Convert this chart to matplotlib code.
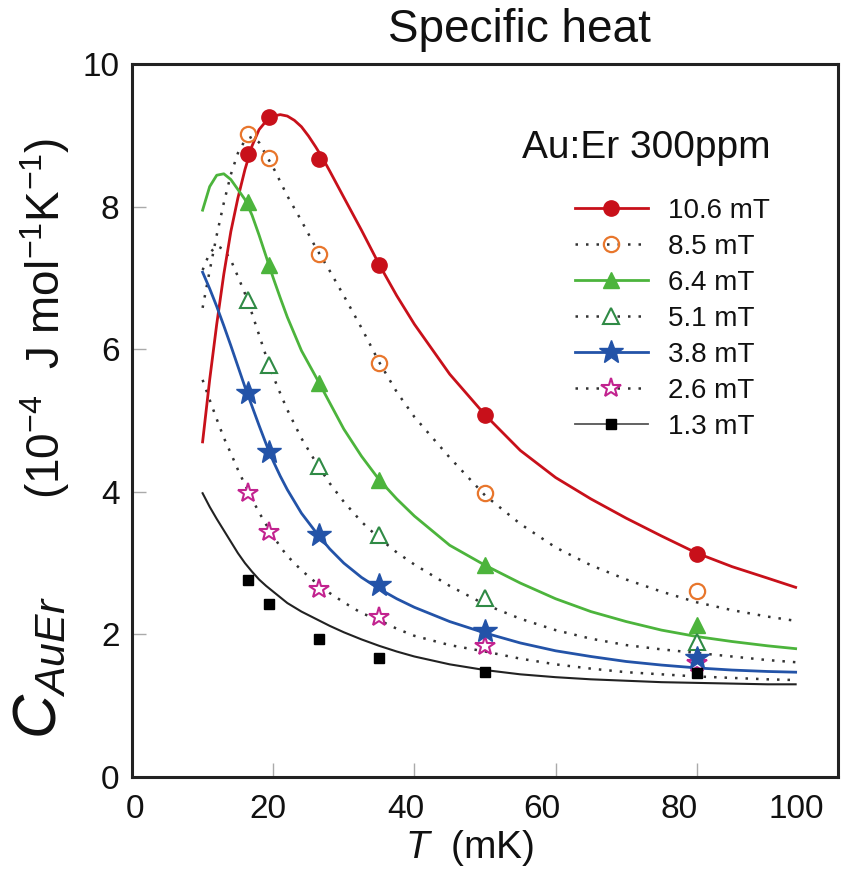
import matplotlib
matplotlib.use("Agg")
import matplotlib.pyplot as plt
from matplotlib.lines import Line2D
from matplotlib.transforms import ScaledTranslation

plt.rcParams['font.family'] = ['Liberation Sans', 'DejaVu Sans']
plt.rcParams['mathtext.fontset'] = 'custom'
plt.rcParams['mathtext.rm'] = 'Liberation Sans'
plt.rcParams['mathtext.it'] = 'Liberation Sans:italic'

# ---- data points ----
T_pts = [16.4, 19.4, 26.5, 35, 50, 80]
c_106 = [8.74, 9.26, 8.67, 7.18, 5.08, 3.13]
c_85 = [9.02, 8.68, 7.34, 5.80, 3.98, 2.61]
c_64 = [8.06, 7.18, 5.53, 4.17, 2.97, 2.13]
c_51 = [6.69, 5.78, 4.36, 3.39, 2.51, 1.89]
c_38 = [5.38, 4.56, 3.39, 2.69, 2.05, 1.67]
c_26 = [3.98, 3.44, 2.64, 2.24, 1.84, 1.60]
c_13 = [2.76, 2.43, 1.94, 1.67, 1.47, 1.46]

# ---- fitted curves ----
T_red = [10, 11, 12, 13, 14, 15, 16, 17, 18, 19, 20, 21, 22, 23, 24, 25, 26, 27,
         28, 30, 32.5, 35, 37.5, 40, 45, 50, 55, 60, 65, 70, 75, 80, 85, 90, 94]
f_106 = [4.70, 5.57, 6.35, 7.05, 7.65, 8.12, 8.52, 8.85, 9.08, 9.20, 9.27, 9.29,
         9.27, 9.21, 9.12, 8.99, 8.84, 8.68, 8.50, 8.13, 7.67, 7.19, 6.75, 6.35,
         5.65, 5.08, 4.58, 4.20, 3.90, 3.63, 3.38, 3.14, 2.95, 2.79, 2.66]

T_fit = [10, 11, 12, 13, 14, 15, 16, 17, 18, 19, 20, 21, 22, 24, 26, 28, 30,
         32.5, 35, 37.5, 40, 45, 50, 55, 60, 65, 70, 75, 80, 85, 90, 94]
f_85 = [6.58, 7.10, 7.60, 8.05, 8.45, 8.75, 8.93, 8.98, 8.90, 8.72, 8.55, 8.35,
        8.15, 7.80, 7.43, 7.10, 6.75, 6.30, 5.82, 5.40, 5.05, 4.48, 3.95, 3.55,
        3.22, 2.97, 2.77, 2.60, 2.45, 2.34, 2.25, 2.19]
f_64 = [7.95, 8.28, 8.44, 8.46, 8.38, 8.24, 8.10, 7.88, 7.60, 7.30, 7.00, 6.72,
        6.45, 5.98, 5.62, 5.25, 4.88, 4.50, 4.17, 3.90, 3.66, 3.25, 2.97, 2.72,
        2.50, 2.32, 2.18, 2.06, 1.97, 1.90, 1.84, 1.80]
f_51 = [7.11, 7.35, 7.45, 7.40, 7.25, 7.02, 6.78, 6.50, 6.20, 5.90, 5.62, 5.38,
        5.15, 4.75, 4.42, 4.12, 3.86, 3.58, 3.35, 3.15, 2.98, 2.68, 2.42, 2.22,
        2.06, 1.94, 1.85, 1.79, 1.74, 1.69, 1.64, 1.61]
f_38 = [7.08, 6.85, 6.60, 6.33, 6.05, 5.76, 5.47, 5.20, 4.93, 4.67, 4.43, 4.22,
        4.03, 3.70, 3.44, 3.20, 3.00, 2.80, 2.64, 2.50, 2.38, 2.18, 2.02, 1.88,
        1.77, 1.69, 1.62, 1.57, 1.53, 1.50, 1.48, 1.47]
f_26 = [5.57, 5.29, 5.02, 4.76, 4.54, 4.31, 4.10, 3.90, 3.71, 3.54, 3.38, 3.23,
        3.10, 2.90, 2.73, 2.58, 2.45, 2.30, 2.20, 2.08, 1.98, 1.85, 1.76, 1.66,
        1.58, 1.52, 1.47, 1.44, 1.41, 1.39, 1.37, 1.36]
f_13 = [3.98, 3.79, 3.62, 3.46, 3.30, 3.14, 3.00, 2.88, 2.77, 2.68, 2.60, 2.52,
        2.44, 2.32, 2.22, 2.12, 2.03, 1.93, 1.84, 1.76, 1.69, 1.58, 1.50, 1.44,
        1.40, 1.37, 1.35, 1.33, 1.32, 1.31, 1.30, 1.30]

labels = ['10.6 mT', '8.5 mT', '6.4 mT', '5.1 mT', '3.8 mT', '2.6 mT', '1.3 mT']
x_ticks = [0, 20, 40, 60, 80, 100]
y_ticks = [0, 2, 4, 6, 8, 10]

RED = '#c8101a'
ORANGE = '#e8762c'
GREEN = '#4cb43c'
DGREEN = '#2f8a45'
BLUE = '#2353a8'
MAGENTA = '#c2238f'
DOT = '#333333'
dotted = (0, (1.0, 3.2))

fig = plt.figure(figsize=(8.64, 8.82), dpi=100)
ax = fig.add_axes([132/864, 1-777/882, (838-132)/864, (777-64)/882])

# curves
ax.plot(T_red, f_106, color=RED, lw=2.0, zorder=3)
ax.plot(T_fit, f_85, color=DOT, lw=1.8, ls=dotted, zorder=2)
ax.plot(T_fit, f_64, color=GREEN, lw=2.0, zorder=3)
ax.plot(T_fit, f_51, color=DOT, lw=1.8, ls=dotted, zorder=2)
ax.plot(T_fit, f_38, color=BLUE, lw=2.0, zorder=3)
ax.plot(T_fit, f_26, color=DOT, lw=1.8, ls=dotted, zorder=2)
ax.plot(T_fit, f_13, color='#222222', lw=1.5, zorder=3)

# markers
ms = dict(ls='none')
ax.plot(T_pts, c_26, marker='*', ms=15, mfc='white', mec=MAGENTA, mew=1.5, zorder=4, **ms)
ax.plot(T_pts, c_106, marker='o', ms=11, mfc=RED, mec=RED, zorder=5, **ms)
ax.plot(T_pts, c_85, marker='o', ms=11, mfc='none', mec=ORANGE, mew=1.6, zorder=5, **ms)
ax.plot(T_pts, c_64, marker='^', ms=12, mfc=GREEN, mec=GREEN, zorder=5, **ms)
ax.plot(T_pts, c_51, marker='^', ms=11, mfc='white', mec=DGREEN, mew=1.5, zorder=5, **ms)
ax.plot(T_pts, c_38, marker='*', ms=18, mfc=BLUE, mec=BLUE, zorder=5, **ms)
ax.plot(T_pts, c_13, marker='s', ms=7, mfc='black', mec='black', zorder=5, **ms)

ax.set_xlim(0, 100)
ax.set_ylim(0, 10)
ax.set_xticks(x_ticks)
ax.set_yticks(y_ticks)
ax.set_xticklabels([str(v) for v in x_ticks])
ax.set_yticklabels([str(v) for v in y_ticks])
ax.tick_params(direction='in', length=10, width=1.0, color='#aaaaaa',
               labelsize=24, pad=9, labelcolor='#111111')
ax.tick_params(axis='x', pad=12)
for s in ax.spines.values():
    s.set_linewidth(2.2)
    s.set_color('#222222')

# x tick labels as in the reference (slightly compressed positions)
x_off = [3, -5, -9, -14, -18, -42]
for lab, dx in zip(ax.get_xticklabels(), x_off):
    lab.set_transform(lab.get_transform() + ScaledTranslation(dx/100, 0, fig.dpi_scale_trans))

# legend
handles = [
    Line2D([], [], color=RED, lw=2.0, marker='o', ms=11, mfc=RED, mec=RED),
    Line2D([], [], color=DOT, lw=1.8, ls=dotted, marker='o', ms=11, mfc='none', mec=ORANGE, mew=1.6),
    Line2D([], [], color=GREEN, lw=2.0, marker='^', ms=12, mfc=GREEN, mec=GREEN),
    Line2D([], [], color=DOT, lw=1.8, ls=dotted, marker='^', ms=11, mfc='white', mec=DGREEN, mew=1.5),
    Line2D([], [], color=BLUE, lw=2.0, marker='*', ms=18, mfc=BLUE, mec=BLUE),
    Line2D([], [], color=DOT, lw=1.8, ls=dotted, marker='*', ms=15, mfc='white', mec=MAGENTA, mew=1.5),
    Line2D([], [], color='#555555', lw=1.3, marker='s', ms=7, mfc='black', mec='black'),
]
leg = ax.legend(handles, labels, loc='upper left', bbox_to_anchor=(0.628, 0.812),
                frameon=False, fontsize=20, handlelength=2.6, handletextpad=0.75,
                labelspacing=0.36, borderpad=0, borderaxespad=0)
for t in leg.get_texts():
    t.set_color('#111111')

ax.text(0.552, 0.882, 'Au:Er 300ppm', transform=ax.transAxes, fontsize=28,
        color='#111111', va='center', ha='left')

# title
fig.text(519/864, 1-30/882, 'Specific heat', fontsize=33, ha='center', va='center',
         color='#111111')

# axis labels
fig.text(470/864, 1-848/882, r'$\mathit{T}$  (mK)', fontsize=28, ha='center', va='center',
         color='#111111')
fig.text(40/864, 1-668/882, r'$\mathit{C}_{\mathit{AuEr}}$', fontsize=44, rotation=90,
         ha='center', va='center', color='#111111')
fig.text(45/864, 1-318/882, r'(10$^{-4}$  J mol$^{-1}$K$^{-1}$)', fontsize=33, rotation=90,
         ha='center', va='center', color='#111111')

fig.savefig('out.png', dpi=100)
